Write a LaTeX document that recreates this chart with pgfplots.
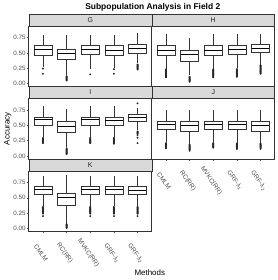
\documentclass[border=0pt]{standalone}
\usepackage{pgfplots}
\pgfplotsset{compat=1.18}
\usepgfplotslibrary{statistics}
\usepackage{fontspec}
\setmainfont{Liberation Sans}
\definecolor{strip}{HTML}{D9D9D9}
\definecolor{frame}{HTML}{333333}
\definecolor{tk}{HTML}{4D4D4D}
\newcommand{\bx}[7]{\addplot[boxplot prepared={draw position=#1, median=#2, lower quartile=#3, upper quartile=#4, lower whisker=#5, upper whisker=#6}] coordinates {#7};}
\newcommand{\strip}[1]{\draw[fill=strip, draw=frame, line width=0.5pt] (rel axis cs:0,1) rectangle ([yshift=12pt]rel axis cs:1,1);
\node[font=\fontsize{7}{8}\selectfont, text=black!85] at ([yshift=6pt]rel axis cs:0.5,1) {#1};}
\pgfplotsset{
 panel/.style={scale only axis, width=124pt, height=61pt, xmin=0.4, xmax=5.6, ymin=-0.05, ymax=0.94, clip=false,
  axis line style={frame, line width=0.6pt},
  xtick={1,2,3,4,5}, xticklabels={CMLM,RC(RR),MVKC(RR),GRF-λ\textsubscript{1},GRF-λ\textsubscript{2}},
  ytick={0,0.25,0.5,0.75}, yticklabels={0.00,0.25,0.50,0.75},
  tick align=outside, tick pos=left, major tick length=2pt, tick style={tk, line width=0.4pt},
  y tick label style={font=\fontsize{6.3}{7}\selectfont, text=tk, inner sep=1pt},
  x tick label style={font=\fontsize{6.5}{7}\selectfont, text=tk, xshift=-2pt, yshift=-20pt, rotate=-55, anchor=center, inner sep=1pt},
  boxplot/draw direction=y, boxplot/box extend=0.75, boxplot/whisker extend=0,
  boxplot/every box/.style={draw=frame, fill=white, line width=0.5pt},
  boxplot/every whisker/.style={draw=frame, line width=0.5pt},
  boxplot/every median/.style={draw=black, line width=1pt},
  every axis plot/.append style={mark=*, mark size=0.75pt, mark options={draw=black!85, fill=black!85}}},
 noxt/.style={xtick=\empty}, noyt/.style={ytick=\empty}
}
\begin{document}
\begin{tikzpicture}
\path (-29pt,-49pt) rectangle (251pt,232pt);
% G
\begin{axis}[panel, noxt, at={(0pt,146pt)}, anchor=south west]
\bx{1}{0.555}{0.47}{0.62}{0.27}{0.80}{(1,0.245)(1,0.16)}
\bx{2}{0.49}{0.39}{0.565}{0.14}{0.80}{(2,0.12)(2,0.11)(2,0.10)(2,0.09)(2,0.08)(2,0.07)(2,0.06)(2,0.05)}
\bx{3}{0.55}{0.48}{0.62}{0.245}{0.80}{(3,0.15)}
\bx{4}{0.545}{0.47}{0.62}{0.255}{0.80}{(4,0.235)(4,0.16)}
\bx{5}{0.57}{0.50}{0.635}{0.33}{0.83}{(5,0.31)(5,0.30)(5,0.29)(5,0.28)(5,0.27)(5,0.26)(5,0.25)(5,0.24)(5,0.23)}
\strip{G}
\end{axis}
% H
\begin{axis}[panel, noxt, noyt, at={(124pt,146pt)}, anchor=south west]
\bx{1}{0.545}{0.47}{0.62}{0.245}{0.815}{(1,0.23)(1,0.22)(1,0.21)(1,0.20)(1,0.19)(1,0.18)(1,0.17)(1,0.16)(1,0.15)(1,0.14)(1,0.13)(1,0.12)(1,0.11)(1,0.10)}
\bx{2}{0.475}{0.365}{0.545}{0.135}{0.745}{(2,0.11)(2,0.10)(2,0.09)(2,0.08)(2,0.07)(2,0.06)(2,0.05)(2,0.04)(2,0.03)}
\bx{3}{0.545}{0.47}{0.62}{0.245}{0.815}{(3,0.23)(3,0.22)(3,0.21)(3,0.20)(3,0.19)(3,0.18)(3,0.17)(3,0.16)(3,0.15)(3,0.14)(3,0.13)(3,0.12)(3,0.11)(3,0.10)}
\bx{4}{0.55}{0.475}{0.62}{0.25}{0.815}{(4,0.235)(4,0.22)(4,0.21)(4,0.20)(4,0.19)(4,0.18)(4,0.17)(4,0.16)(4,0.15)(4,0.14)(4,0.13)(4,0.12)(4,0.11)}
\bx{5}{0.58}{0.51}{0.64}{0.31}{0.815}{(5,0.30)(5,0.29)(5,0.28)(5,0.27)(5,0.26)(5,0.25)(5,0.24)(5,0.23)(5,0.22)(5,0.21)(5,0.20)(5,0.19)(5,0.18)(5,0.17)(5,0.16)}
\strip{H}
\end{axis}
% I
\begin{axis}[panel, noxt, at={(0pt,73pt)}, anchor=south west, ylabel={Accuracy}, ylabel style={font=\fontsize{8}{9}\selectfont, inner sep=1pt}]
\bx{1}{0.595}{0.51}{0.63}{0.305}{0.815}{(1,0.295)(1,0.28)(1,0.27)(1,0.26)(1,0.25)(1,0.24)(1,0.23)(1,0.22)(1,0.21)}
\bx{2}{0.48}{0.38}{0.565}{0.14}{0.77}{(2,0.125)(2,0.11)(2,0.10)(2,0.09)(2,0.08)(2,0.07)(2,0.06)(2,0.05)(2,0.04)(2,0.03)}
\bx{3}{0.59}{0.51}{0.635}{0.305}{0.815}{(3,0.295)(3,0.28)(3,0.27)(3,0.26)(3,0.25)(3,0.24)(3,0.23)(3,0.22)(3,0.21)}
\bx{4}{0.585}{0.51}{0.63}{0.305}{0.815}{(4,0.295)(4,0.28)(4,0.27)(4,0.26)(4,0.25)(4,0.24)(4,0.23)(4,0.22)(4,0.21)(4,0.20)}
\bx{5}{0.63}{0.57}{0.675}{0.425}{0.78}{(5,0.40)(5,0.39)(5,0.38)(5,0.37)(5,0.36)(5,0.34)(5,0.30)(5,0.21)(5,0.86)}
\strip{I}
\end{axis}
% J
\begin{axis}[panel, noyt, at={(124pt,73pt)}, anchor=south west]
\bx{1}{0.515}{0.43}{0.575}{0.225}{0.745}{(1,0.21)(1,0.20)(1,0.19)(1,0.18)(1,0.17)(1,0.16)(1,0.15)(1,0.14)(1,0.125)}
\bx{2}{0.495}{0.405}{0.56}{0.195}{0.745}{(2,0.185)(2,0.17)(2,0.16)(2,0.15)(2,0.14)(2,0.13)(2,0.12)(2,0.11)(2,0.10)(2,0.085)}
\bx{3}{0.515}{0.43}{0.575}{0.225}{0.745}{(3,0.21)(3,0.20)(3,0.19)(3,0.18)(3,0.17)(3,0.16)(3,0.15)(3,0.135)}
\bx{4}{0.51}{0.43}{0.575}{0.215}{0.75}{(4,0.205)(4,0.19)(4,0.18)(4,0.17)(4,0.16)(4,0.15)(4,0.14)(4,0.13)(4,0.115)}
\bx{5}{0.50}{0.41}{0.56}{0.215}{0.75}{(5,0.205)(5,0.19)(5,0.18)(5,0.17)(5,0.16)(5,0.15)(5,0.14)(5,0.13)(5,0.115)}
\strip{J}
\end{axis}
% K
\begin{axis}[panel, at={(0pt,0pt)}, anchor=south west]
\bx{1}{0.64}{0.56}{0.695}{0.36}{0.86}{(1,0.35)(1,0.34)(1,0.33)(1,0.32)(1,0.31)(1,0.30)(1,0.29)(1,0.28)(1,0.27)(1,0.26)(1,0.25)(1,0.24)(1,0.20)}
\bx{2}{0.50}{0.375}{0.58}{0.075}{0.88}{(2,0.065)(2,0.055)(2,0.045)(2,0.035)(2,0.025)(2,0.015)(2,0.005)}
\bx{3}{0.64}{0.56}{0.695}{0.36}{0.86}{(3,0.35)(3,0.34)(3,0.33)(3,0.32)(3,0.31)(3,0.30)(3,0.29)(3,0.28)(3,0.27)(3,0.26)(3,0.25)(3,0.24)(3,0.20)}
\bx{4}{0.635}{0.555}{0.69}{0.36}{0.85}{(4,0.35)(4,0.34)(4,0.33)(4,0.32)(4,0.31)(4,0.30)(4,0.29)(4,0.28)(4,0.27)(4,0.26)(4,0.25)(4,0.24)(4,0.20)}
\bx{5}{0.625}{0.555}{0.685}{0.36}{0.85}{(5,0.35)(5,0.34)(5,0.33)(5,0.32)(5,0.31)(5,0.30)(5,0.29)(5,0.28)(5,0.27)(5,0.26)(5,0.25)(5,0.24)(5,0.20)}
\strip{K}
\end{axis}
\node[font=\fontsize{8}{9}\selectfont] at (122pt,-42pt) {Methods};
\node[font=\bfseries\fontsize{8.5}{10}\selectfont] at (125pt,226pt) {Subpopulation Analysis in Field 2};
\end{tikzpicture}
\end{document}
